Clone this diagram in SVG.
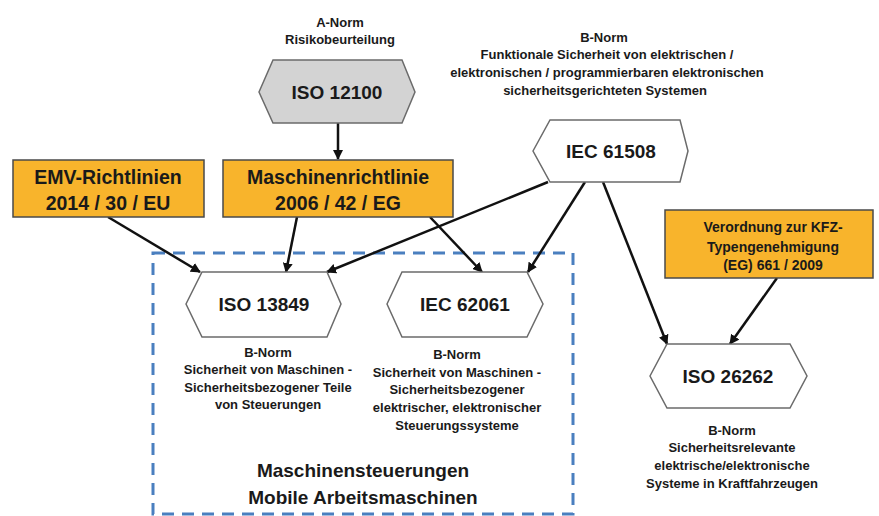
<svg xmlns="http://www.w3.org/2000/svg" width="879" height="516" viewBox="0 0 879 516">
<defs>
<marker id="ah" viewBox="0 0 10 10" refX="9" refY="5" markerWidth="4" markerHeight="4" orient="auto" markerUnits="strokeWidth">
<path d="M0,0 L10,5 L0,10 z" fill="#111"/>
</marker>
<style>
text{font-family:"Liberation Sans",Arial,sans-serif;fill:#1a1a1a;text-anchor:middle;font-weight:bold}
.s{font-size:13px}
.h{font-size:19px}
.b{font-size:19.5px}
.v{font-size:14px}
.hex{fill:#fff;stroke:#6b6b6b;stroke-width:1.5}
.box{fill:#f8b42c;stroke:#4a4a4a;stroke-width:1.5}
.c{stroke:#111;stroke-width:2.5;fill:none;marker-end:url(#ah)}
</style>
</defs>
<rect width="879" height="516" fill="#fff"/>

<g id="frame">
<rect x="153" y="253" width="420" height="261" fill="none" stroke="#4a7fbf" stroke-width="3" stroke-dasharray="12,8"/>
<text x="363" y="477" style="font-size:19px">Maschinensteuerungen</text>
<text x="363" y="504" style="font-size:19px">Mobile Arbeitsmaschinen</text>
</g>

<g id="connectors">
<line class="c" x1="338" y1="123" x2="338" y2="159"/>
<line class="c" x1="108" y1="217" x2="200" y2="272"/>
<line class="c" x1="297" y1="217" x2="286" y2="272"/>
<line class="c" x1="430" y1="217" x2="482" y2="272"/>
<line class="c" x1="548" y1="182" x2="327" y2="272"/>
<line class="c" x1="585" y1="182" x2="528" y2="272"/>
<line class="c" x1="603" y1="182" x2="667" y2="344"/>
<line class="c" x1="777" y1="278" x2="730" y2="344"/>
</g>

<g id="iso12100">
<text class="s" x="340" y="27">A-Norm</text>
<text class="s" x="340" y="44">Risikobeurteilung</text>
<polygon points="259,92 273,60 402,60 415,92 402,123 273,123" fill="#d3d3d3" stroke="#6b6b6b" stroke-width="1.5"/>
<text class="h" x="337" y="99">ISO 12100</text>
</g>

<g id="iec61508">
<text class="s" x="604" y="42">B-Norm</text>
<text class="s" x="607" y="59">Funktionale Sicherheit von elektrischen /</text>
<text class="s" x="607" y="77">elektronischen / programmierbaren elektronischen</text>
<text class="s" x="605" y="95">sicherheitsgerichteten Systemen</text>
<polygon class="hex" points="533,151 550,120 680,120 688,151 680,182 550,182"/>
<text class="h" x="611" y="158">IEC 61508</text>
</g>

<g id="emv">
<rect class="box" x="13" y="160" width="191" height="57"/>
<text class="b" x="108" y="184">EMV-Richtlinien</text>
<text class="b" x="108" y="210">2014 / 30 / EU</text>
</g>

<g id="maschinenrichtlinie">
<rect class="box" x="223" y="160" width="230" height="57"/>
<text class="b" x="338" y="184">Maschinenrichtlinie</text>
<text class="b" x="338" y="210">2006 / 42 / EG</text>
</g>

<g id="iso13849">
<polygon class="hex" points="186,304 202,272 327,272 341,304 327,337 202,337"/>
<text class="h" x="264" y="311">ISO 13849</text>
<text class="s" x="268" y="357">B-Norm</text>
<text class="s" x="268" y="374">Sicherheit von Maschinen -</text>
<text class="s" x="268" y="392">Sicherheitsbezogener Teile</text>
<text class="s" x="268" y="409">von Steuerungen</text>
</g>

<g id="iec62061">
<polygon class="hex" points="387,304 402,272 527,272 543,304 527,337 402,337"/>
<text class="h" x="465" y="311">IEC 62061</text>
<text class="s" x="457" y="359">B-Norm</text>
<text class="s" x="457" y="377">Sicherheit von Maschinen -</text>
<text class="s" x="457" y="394">Sicherheitsbezogener</text>
<text class="s" x="457" y="412">elektrischer, elektronischer</text>
<text class="s" x="457" y="430">Steuerungssysteme</text>
</g>

<g id="kfz">
<rect class="box" x="665" y="210" width="208" height="68"/>
<text class="v" x="773" y="232">Verordnung zur KFZ-</text>
<text class="v" x="773" y="252">Typengenehmigung</text>
<text class="v" x="773" y="270">(EG) 661 / 2009</text>
</g>

<g id="iso26262">
<polygon class="hex" points="650,376 667,344 790,344 807,376 790,408 667,408"/>
<text class="h" x="728" y="383">ISO 26262</text>
<text class="s" x="732" y="435">B-Norm</text>
<text class="s" x="732" y="452">Sicherheitsrelevante</text>
<text class="s" x="732" y="470">elektrische/elektronische</text>
<text class="s" x="732" y="488">Systeme in Kraftfahrzeugen</text>
</g>
</svg>
